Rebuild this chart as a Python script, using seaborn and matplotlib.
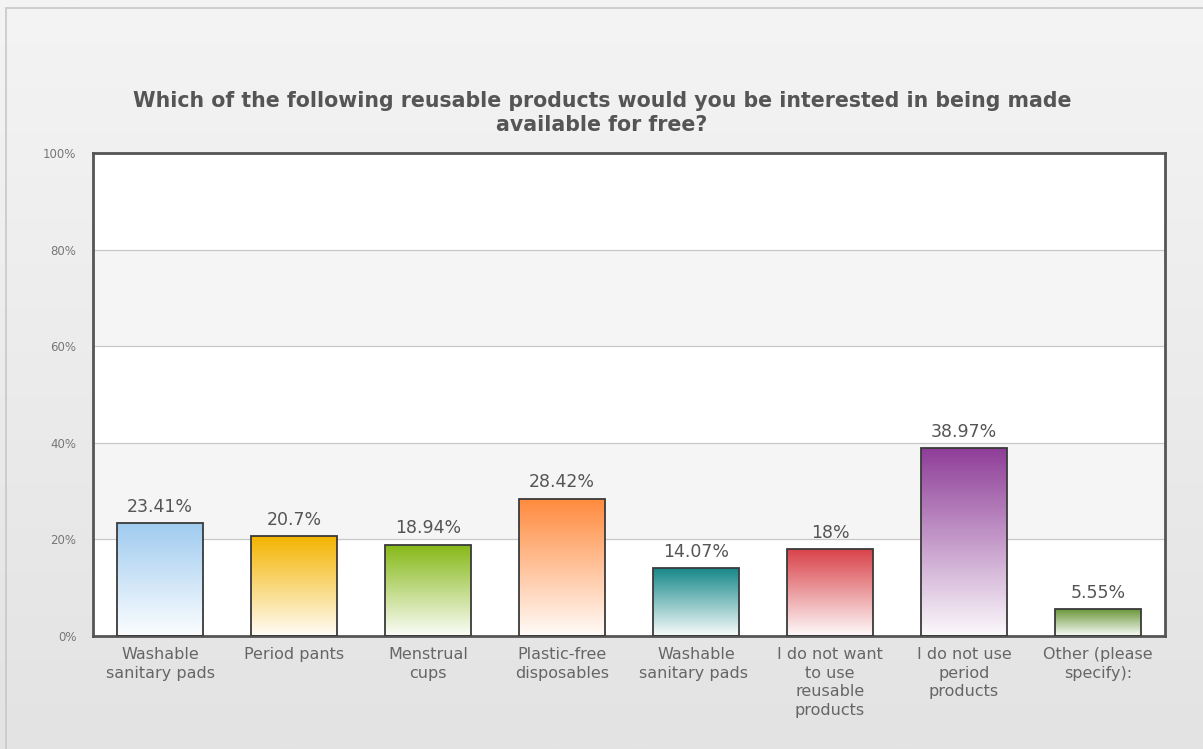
import numpy as np
import pandas as pd
import matplotlib
matplotlib.use("Agg")
import matplotlib.pyplot as plt
import seaborn as sns
from matplotlib.colors import LinearSegmentedColormap
from matplotlib.patches import Rectangle

categories = [
    "Washable\nsanitary pads",
    "Period pants",
    "Menstrual\ncups",
    "Plastic-free\ndisposables",
    "Washable\nsanitary pads ",
    "I do not want\nto use\nreusable\nproducts",
    "I do not use\nperiod\nproducts",
    "Other (please\nspecify):",
]
values = [23.41, 20.7, 18.94, 28.42, 14.07, 18.0, 38.97, 5.55]
value_labels = ["23.41%", "20.7%", "18.94%", "28.42%", "14.07%", "18%", "38.97%", "5.55%"]
bar_colors = ["#9fcbf0", "#f4b400", "#86b816", "#ff8a3d", "#17888a", "#d9434a", "#8e3d98", "#6a973a"]
y_ticks = [0, 20, 40, 60, 80, 100]

df = pd.DataFrame({"answer": categories, "pct": values})

sns.set_style("white")
plt.rcParams["font.family"] = ["DejaVu Sans"]

fig = plt.figure(figsize=(12.03, 7.49), dpi=100)

# background gradient for the whole figure
bg = fig.add_axes([0, 0, 1, 1], zorder=-10)
grad = np.linspace(0, 1, 256).reshape(-1, 1)
bg_cmap = LinearSegmentedColormap.from_list("bg", ["#f4f4f4", "#e3e3e3"])
bg.imshow(grad, aspect="auto", cmap=bg_cmap, extent=[0, 1, 0, 1], origin="upper")
bg.add_patch(Rectangle((6 / 1203, -0.1), 1.2, 1.1 - 8 / 749, fill=False,
                       edgecolor="#c8c8c8", linewidth=1.2, transform=bg.transAxes))
bg.set_xlim(0, 1)
bg.set_ylim(0, 1)
bg.axis("off")

left, right = 93 / 1203, 1165 / 1203
top, bottom = 1 - 153 / 749, 1 - 636 / 749
ax = fig.add_axes([left, bottom, right - left, top - bottom])
ax.set_facecolor("white")

sns.barplot(data=df, x="answer", y="pct", ax=ax, width=0.64,
            color="white", edgecolor="#3a3a3a", linewidth=1.3, zorder=2)

# alternate bands + grid lines
for lo in (20, 60):
    ax.axhspan(lo, lo + 20, facecolor="#f5f5f5", edgecolor="none", zorder=0)
for t in y_ticks[1:-1]:
    ax.axhline(t, color="#c8c8c8", linewidth=0.9, zorder=0.5)

for patch, col, lab in zip(ax.containers[0], bar_colors, value_labels):
    x0, y0 = patch.get_x(), patch.get_y()
    w, h = patch.get_width(), patch.get_height()
    cmap = LinearSegmentedColormap.from_list("g", [col, "#ffffff"])
    im = ax.imshow(np.linspace(0, 0.97, 256).reshape(-1, 1), aspect="auto", cmap=cmap,
                   vmin=0, vmax=1, extent=[x0, x0 + w, y0, y0 + h], origin="upper", zorder=2.5)
    im.set_clip_path(patch)
    patch.set_facecolor("none")
    patch.set_zorder(3)
    ax.text(x0 + w / 2, y0 + h + 1.5, lab, ha="center", va="bottom",
            fontsize=12.5, color="#555555", zorder=4)

ax.set_xlim(-0.5, len(categories) - 0.5)
ax.set_ylim(0, 100)
ax.set_yticks(y_ticks)
ax.set_yticklabels([f"{t}%" for t in y_ticks], fontsize=8.5, color="#777777")
ax.tick_params(axis="x", labelsize=11.5, labelcolor="#666666", length=0, pad=8)
ax.tick_params(axis="y", length=0, pad=12)
for lbl in ax.get_xticklabels():
    lbl.set_linespacing(1.3)
ax.set_xlabel("")
ax.set_ylabel("")
for sp in ax.spines.values():
    sp.set_visible(True)
    sp.set_color("#555555")
    sp.set_linewidth(2)

fig.text(602 / 1203, 1 - 113 / 749,
         "Which of the following reusable products would you be interested in being made\navailable for free?",
         ha="center", va="center", fontsize=14.8, fontweight="bold", color="#555555", linespacing=1.2)

fig.savefig("out.png", dpi=100)
